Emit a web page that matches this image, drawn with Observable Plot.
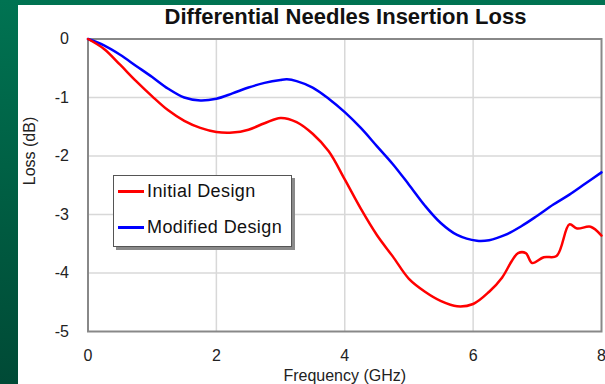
<!DOCTYPE html>
<html>
<head>
<meta charset="utf-8">
<script src="https://cdn.jsdelivr.net/npm/d3@7"></script>
<script src="https://cdn.jsdelivr.net/npm/@observablehq/plot@0.6"></script>
<style>
  html, body { margin: 0; padding: 0; }
  body {
    width: 605px; height: 384px; overflow: hidden; position: relative;
    background: linear-gradient(180deg, #007352 0%, #005a40 60%, #004a36 100%);
    font-family: "Liberation Sans", Arial, sans-serif;
  }
  #panel { position: absolute; left: 18px; top: 5px; width: 587px; height: 379px; background: #fff; }
  #chart { position: absolute; left: 0; top: 0; }
  #title { position: absolute; left: 0; width: 691px; top: 4px; text-align: center;
    font-weight: bold; font-size: 22px; color: #111; }
  #legend { position: absolute; left: 113px; top: 175px; width: 177px; height: 70px;
    border: 1px solid #555; background: #fff; box-shadow: 3px 3px 0 #8a8a8a; }
  .item { position: absolute; left: 4px; font-size: 18px; letter-spacing: 0.4px; color: #111; white-space: nowrap; }
  .item span.sw { display: inline-block; width: 26px; height: 3px; vertical-align: middle; margin-right: 3px; position: relative; top: -1px; }
</style>
</head>
<body>
<div id="panel"></div>
<div id="chart"></div>
<div id="title">Differential Needles Insertion Loss</div>
<div id="legend"></div>
<script>
const seriesNames = ["Initial Design", "Modified Design"];
const seriesColors = ["#ff0000", "#0000ff"];

const initialFreq = [0, 0.25, 0.5, 0.75, 1.0, 1.25, 1.5, 1.75, 2.0, 2.25, 2.5, 2.75, 3.0, 3.25, 3.5, 3.75, 4.0, 4.25, 4.5, 4.75, 5.0, 5.25, 5.5, 5.75, 6.0, 6.25, 6.45, 6.6, 6.7, 6.82, 6.92, 7.1, 7.3, 7.5, 7.62, 7.83, 8.0];
const initialLoss = [0, -0.17, -0.44, -0.72, -0.98, -1.22, -1.4, -1.52, -1.59, -1.6, -1.55, -1.44, -1.35, -1.42, -1.62, -1.92, -2.4, -2.9, -3.35, -3.72, -4.1, -4.32, -4.48, -4.57, -4.53, -4.32, -4.08, -3.8, -3.66, -3.66, -3.83, -3.73, -3.71, -3.17, -3.24, -3.21, -3.36];

const modifiedFreq = [0, 0.25, 0.5, 0.75, 1.0, 1.25, 1.5, 1.75, 2.0, 2.25, 2.5, 2.75, 3.0, 3.1, 3.25, 3.5, 3.75, 4.0, 4.25, 4.5, 4.75, 5.0, 5.25, 5.5, 5.75, 6.06, 6.25, 6.5, 6.75, 7.0, 7.25, 7.5, 7.75, 8.0];
const modifiedLoss = [0, -0.11, -0.27, -0.46, -0.65, -0.85, -1.0, -1.05, -1.02, -0.93, -0.83, -0.75, -0.7, -0.69, -0.72, -0.83, -1.02, -1.25, -1.52, -1.83, -2.14, -2.49, -2.85, -3.15, -3.35, -3.45, -3.44, -3.35, -3.2, -3.02, -2.83, -2.66, -2.47, -2.28];

const xTicks = [0, 2, 4, 6, 8];
const yTicks = [0, -1, -2, -3, -4, -5];

const initial = initialFreq.map((f, i) => ({ f, v: initialLoss[i] }));
const modified = modifiedFreq.map((f, i) => ({ f, v: modifiedLoss[i] }));

const chart = Plot.plot({
  width: 605, height: 384,
  marginLeft: 87.5, marginRight: 4, marginTop: 38.5, marginBottom: 53,
  style: { background: "transparent", fontFamily: "Liberation Sans, Arial, sans-serif", fontSize: "16px", color: "#222" },
  x: { domain: [0, 8], ticks: xTicks, tickFormat: d => String(d), tickSize: 0, tickPadding: 18, label: null },
  y: { domain: [-5, 0], ticks: yTicks, tickFormat: d => String(d), tickSize: 0, tickPadding: 19, label: null },
  marks: [
    Plot.gridX(xTicks.slice(1, -1), { stroke: "#d8d8d8", strokeOpacity: 1, strokeWidth: 1.5 }),
    Plot.gridY(yTicks.slice(1, -1), { stroke: "#d8d8d8", strokeOpacity: 1, strokeWidth: 1.5 }),
    Plot.frame({ stroke: "#888", strokeWidth: 2 }),
    Plot.line(modified, { x: "f", y: "v", stroke: seriesColors[1], strokeWidth: 2.5, curve: "catmull-rom" }),
    Plot.line(initial, { x: "f", y: "v", stroke: seriesColors[0], strokeWidth: 2.5, curve: "catmull-rom" }),
    Plot.text(["Frequency (GHz)"], { frameAnchor: "bottom", dy: 49, text: d => d, fontSize: 16, fill: "#222" }),
    Plot.text(["Loss (dB)"], { frameAnchor: "left", dx: -58, rotate: -90, text: d => d, fontSize: 16, fill: "#222" })
  ]
});
document.getElementById("chart").appendChild(chart);

const legend = document.getElementById("legend");
seriesNames.forEach((name, i) => {
  const d = document.createElement("div");
  d.className = "item";
  d.style.top = (i === 0 ? 5 : 41) + "px";
  d.innerHTML = `<span class="sw" style="background:${seriesColors[i]}"></span>${name}`;
  legend.appendChild(d);
});
</script>
</body>
</html>
